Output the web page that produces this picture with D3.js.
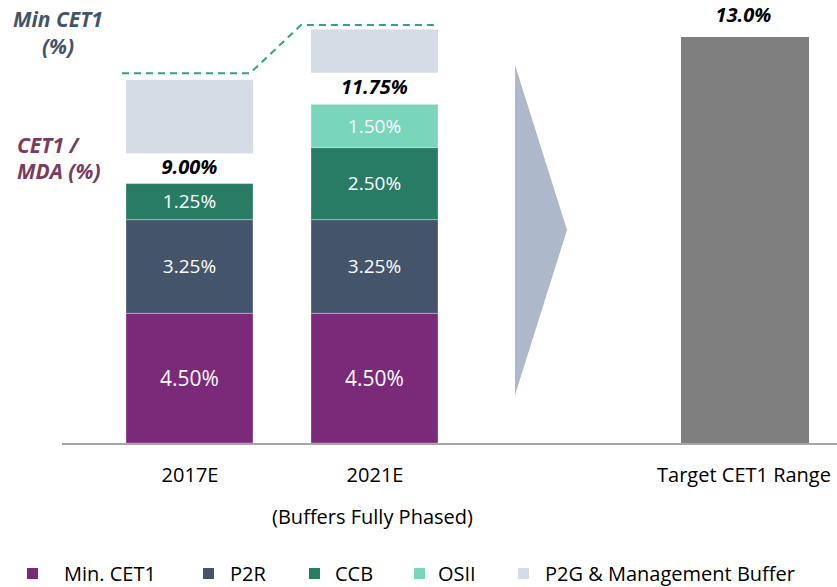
<!DOCTYPE html>
<html>
<head>
<meta charset="utf-8">
<script src="https://cdn.jsdelivr.net/npm/d3@7"></script>
<style>
  html, body { margin: 0; padding: 0; background: #fff; }
  svg { display: block; font-family: "Open Sans", Lato, sans-serif; }
</style>
</head>
<body>
<svg id="chart" width="837" height="587"></svg>
<script>
// Capital requirement build-up (CET1, % of RWA)
const categories = ["2017E", "2021E"];
const minCet1 = [4.50, 4.50];
const p2r = [3.25, 3.25];
const ccb = [1.25, 2.50];
const osii = [0.00, 1.50];
// P2G & management buffer shown as a floating block above each stack
const p2gFrom = [10.05, 12.85];
const p2gTo = [12.60, 14.35];
// Minimum CET1 incl. guidance (dashed step line)
const minCet1Level = [12.83, 14.50];
const targetCategory = "Target CET1 Range";
const targetValue = [13.0];
const seriesNames = ["Min. CET1", "P2R", "CCB", "OSII", "P2G & Management Buffer"];
const seriesKeys = ["min", "p2r", "ccb", "osii"];
const colors = ["#7b2a79", "#44546a", "#287c64", "#79d6bb", "#d6dce5"];
const subLabel = "(Buffers Fully Phased)";

const svg = d3.select("#chart");
const baseY = 443;

const x = d3.scalePoint()
  .domain([...categories, "arrow", targetCategory])
  .range([97, 837])
  .padding(0.5);
const barW = 127;

const y = d3.scaleLinear().domain([0, 15]).range([baseY, baseY - 15 * 28.82]);
// Target panel uses its own scale
const yT = d3.scaleLinear().domain([0, 13]).range([baseY, 37]);

const rows = categories.map((c, i) => ({
  cat: c, min: minCet1[i], p2r: p2r[i], ccb: ccb[i], osii: osii[i]
}));
const stacked = d3.stack().keys(seriesKeys)(rows);
const fmt = v => v.toFixed(2) + "%";

// P2G blocks
svg.append("g").selectAll("rect")
  .data(categories)
  .join("rect")
  .attr("x", c => x(c) - barW / 2)
  .attr("width", barW)
  .attr("y", (c, i) => y(p2gTo[i]))
  .attr("height", (c, i) => y(p2gFrom[i]) - y(p2gTo[i]))
  .attr("fill", colors[4]);

// Stacked segments
const layer = svg.append("g").selectAll("g")
  .data(stacked)
  .join("g")
  .attr("fill", (d, i) => colors[i]);

layer.selectAll("rect")
  .data(d => d.filter(s => s[1] - s[0] > 0))
  .join("rect")
  .attr("x", d => x(d.data.cat) - barW / 2)
  .attr("width", barW)
  .attr("y", d => y(d[1]))
  .attr("height", d => y(d[0]) - y(d[1]))
  .attr("stroke", "rgba(255,255,255,0.3)")
  .attr("stroke-width", 1);

layer.selectAll("text")
  .data((d, i) => d.filter(s => s[1] - s[0] > 0).map(s => ({ s, i })))
  .join("text")
  .attr("x", d => x(d.s.data.cat))
  .attr("y", d => (y(d.s[0]) + y(d.s[1])) / 2)
  .attr("dy", "0.36em")
  .attr("text-anchor", "middle")
  .attr("fill", "#fff")
  .attr("font-size", d => d.i === 0 ? 21 : 19)
  .text(d => fmt(d.s[1] - d.s[0]));

// Stack totals
const totals = rows.map(r => r.min + r.p2r + r.ccb + r.osii);
svg.append("g").selectAll("text")
  .data(categories)
  .join("text")
  .attr("x", c => x(c))
  .attr("y", (c, i) => (y(totals[i]) + y(p2gFrom[i])) / 2 - 1.5)
  .attr("dy", "0.36em")
  .attr("text-anchor", "middle")
  .attr("font-size", 20)
  .attr("font-weight", "bold")
  .attr("font-style", "italic")
  .attr("fill", "#000")
  .text((c, i) => fmt(totals[i]));

// Minimum CET1 dashed step line
const linePts = [];
categories.forEach((c, i) => {
  const left = i === 0 ? x(c) - barW / 2 - 4 : x(c) - barW / 2 - 10;
  const right = i === 0 ? x(c) + barW / 2 - 3 : x(c) + barW / 2 - 1;
  linePts.push([left, y(minCet1Level[i])], [right, y(minCet1Level[i])]);
});
svg.append("path")
  .attr("d", d3.line()(linePts))
  .attr("fill", "none")
  .attr("stroke", "#2ea57a")
  .attr("stroke-width", 2)
  .attr("stroke-dasharray", "7,5");

// Transition arrow
const ac = x("arrow");
svg.append("path")
  .attr("d", d3.line()([[ac - 44.5, 65], [ac + 7.5, 230], [ac - 44.5, 395]]) + "Z")
  .attr("fill", "#adb9ca");

// Target bar
svg.append("g").selectAll("rect")
  .data(targetValue)
  .join("rect")
  .attr("x", x(targetCategory) - barW / 2)
  .attr("width", barW + 1)
  .attr("y", d => yT(d))
  .attr("height", d => baseY - yT(d))
  .attr("fill", "#7f7f7f");
svg.append("g").selectAll("text")
  .data(targetValue)
  .join("text")
  .attr("x", x(targetCategory) - 1)
  .attr("y", d => yT(d) - 15)
  .attr("text-anchor", "middle")
  .attr("font-size", 20)
  .attr("font-weight", "bold")
  .attr("font-style", "italic")
  .text(d => d.toFixed(1) + "%");

// Baseline
svg.append("line")
  .attr("x1", 62).attr("x2", 837)
  .attr("y1", baseY + 1).attr("y2", baseY + 1)
  .attr("stroke", "#a6a6a6").attr("stroke-width", 2);

// Category axis labels
const axis = svg.append("g")
  .attr("transform", `translate(0,${baseY})`)
  .call(d3.axisBottom(x).tickSize(0).tickPadding(25)
    .tickFormat(d => d === "arrow" ? "" : d));
axis.attr("font-family", null).attr("font-size", 20);
axis.select(".domain").remove();
axis.selectAll("text").attr("fill", "#000");
axis.selectAll(".tick").filter(d => d === targetCategory)
  .select("text").attr("dx", -1);

svg.append("text")
  .attr("x", x(categories[1]) - 2)
  .attr("y", 517)
  .attr("dy", "0.36em")
  .attr("text-anchor", "middle")
  .attr("font-size", 20)
  .text(subLabel);

// Side annotations
const note1 = svg.append("text")
  .attr("fill", "#44546a").attr("font-size", 21)
  .attr("font-weight", "bold").attr("font-style", "italic")
  .attr("text-anchor", "middle");
note1.append("tspan").attr("x", 58).attr("y", 27).text("Min CET1");
note1.append("tspan").attr("x", 58).attr("y", 54).text("(%)");

const note2 = svg.append("text")
  .attr("fill", "#7a3b5e").attr("font-size", 21)
  .attr("font-weight", "bold").attr("font-style", "italic");
note2.append("tspan").attr("x", 17).attr("y", 153).text("CET1 /");
note2.append("tspan").attr("x", 17).attr("y", 179).text("MDA (%)");

// Legend
const legendSwatchX = [27, 203, 309, 414, 518];
const legendTextX = [64, 230, 335, 438, 545];
const legend = svg.append("g").selectAll("g")
  .data(seriesNames)
  .join("g")
  .attr("transform", "translate(0,574)");
legend.append("rect")
  .attr("x", (d, i) => legendSwatchX[i]).attr("y", -6)
  .attr("width", 11).attr("height", 11)
  .attr("fill", (d, i) => colors[i]);
legend.append("text")
  .attr("x", (d, i) => legendTextX[i]).attr("y", 0).attr("dy", "0.36em")
  .attr("font-size", 20)
  .text(d => d);
</script>
</body>
</html>
